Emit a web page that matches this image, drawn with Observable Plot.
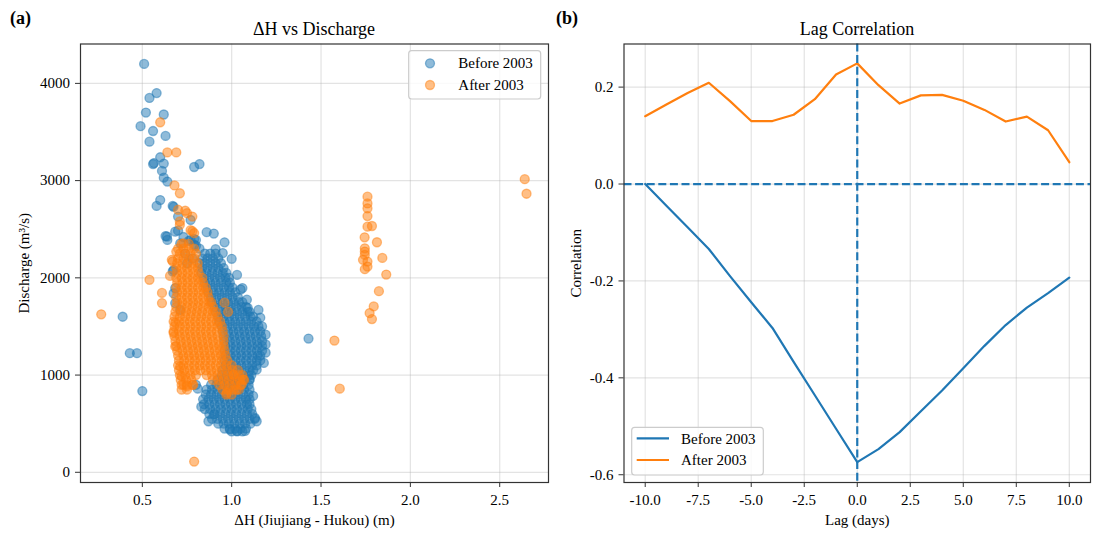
<!DOCTYPE html>
<html>
<head>
<meta charset="utf-8">
<script src="https://cdn.jsdelivr.net/npm/d3@7"></script>
<script src="https://cdn.jsdelivr.net/npm/@observablehq/plot@0.6"></script>
<style>
  html, body { margin: 0; padding: 0; background: #fff; }
  #wrap { position: relative; width: 1093px; height: 535px; background: #fff; overflow: hidden; }
  #left, #right, #overlay { position: absolute; top: 0; }
  #left { left: 0; }
  #right { left: 560px; }
  #overlay { left: 0; pointer-events: none; }
  text { font-family: "Liberation Serif", "Times New Roman", serif; }
  #left svg, #right svg { font-family: "Liberation Serif", "Times New Roman", serif !important; font-size: 15px !important; }
  #left svg text, #right svg text { font-family: "Liberation Serif", "Times New Roman", serif !important; }
</style>
</head>
<body>
<div id="wrap">
  <div id="left"></div>
  <div id="right"></div>
  <svg id="overlay" width="1093" height="535"></svg>
</div>
<script>
// ---------------- DATA ----------------
const seriesNames = ["Before 2003", "After 2003"];
const colors = ["#1f77b4", "#ff7f0e"];

// Panel (b): lag correlation
const lags = [-10, -9, -8, -7, -6, -5, -4, -3, -2, -1, 0, 1, 2, 3, 4, 5, 6, 7, 8, 9, 10];
const corrBefore = [0.000, -0.045, -0.089, -0.134, -0.190, -0.244, -0.297, -0.367, -0.436, -0.505, -0.574,
                    -0.547, -0.512, -0.469, -0.426, -0.380, -0.334, -0.291, -0.255, -0.225, -0.193];
const corrAfter = [0.140, 0.164, 0.188, 0.209, 0.171, 0.130, 0.130, 0.143, 0.175, 0.226, 0.249,
                   0.204, 0.166, 0.183, 0.184, 0.172, 0.153, 0.129, 0.139, 0.111, 0.045];

// Panel (a): scatter ΔH (m) vs discharge (m3/s)
// dense core, row by row: [discharge, [ΔH values]]
const beforeCoreRows = [
  [2250, [0.85, 0.88, 0.91]],
  [2200, [0.835, 0.865, 0.895, 0.925]],
  [2150, [0.82, 0.85, 0.88, 0.91, 0.94]],
  [2100, [0.835, 0.865, 0.895, 0.925, 0.955]],
  [2050, [0.83, 0.86, 0.89, 0.92, 0.95, 0.97]],
  [2000, [0.845, 0.875, 0.905, 0.935, 0.965, 0.985]],
  [1950, [0.85, 0.88, 0.91, 0.94, 0.97, 0.99]],
  [1900, [0.865, 0.895, 0.925, 0.955, 0.985, 1.005]],
  [1850, [0.87, 0.90, 0.93, 0.96, 0.99, 1.02]],
  [1800, [0.885, 0.915, 0.945, 0.975, 1.005, 1.035]],
  [1750, [0.89, 0.92, 0.95, 0.98, 1.01, 1.04, 1.06]],
  [1700, [0.905, 0.935, 0.965, 0.995, 1.025, 1.055, 1.08]],
  [1650, [0.91, 0.94, 0.97, 1.00, 1.03, 1.06, 1.09, 1.10]],
  [1600, [0.925, 0.955, 0.985, 1.015, 1.045, 1.075, 1.105, 1.12]],
  [1550, [0.93, 0.96, 0.99, 1.02, 1.05, 1.08, 1.11, 1.14]],
  [1500, [0.945, 0.975, 1.005, 1.035, 1.065, 1.095, 1.125, 1.15]],
  [1450, [0.95, 0.98, 1.01, 1.04, 1.07, 1.10, 1.13, 1.16]],
  [1400, [0.955, 0.985, 1.015, 1.045, 1.075, 1.105, 1.135, 1.165]],
  [1350, [0.96, 0.99, 1.02, 1.05, 1.08, 1.11, 1.14, 1.17]],
  [1300, [0.965, 0.995, 1.025, 1.055, 1.085, 1.115, 1.145, 1.17]],
  [1250, [0.96, 0.99, 1.02, 1.05, 1.08, 1.11, 1.14, 1.17]],
  [1200, [0.965, 0.995, 1.025, 1.055, 1.085, 1.115, 1.145, 1.16]],
  [1150, [0.96, 0.99, 1.02, 1.05, 1.08, 1.11, 1.14, 1.16]],
  [1100, [0.965, 0.995, 1.025, 1.055, 1.085, 1.115, 1.14]],
  [1050, [0.95, 0.98, 1.01, 1.04, 1.07, 1.10, 1.12]],
  [1000, [0.945, 0.975, 1.005, 1.035, 1.065, 1.095, 1.11]],
  [950, [0.92, 0.95, 0.98, 1.01, 1.04, 1.07, 1.10]],
  [900, [0.885, 0.915, 0.945, 0.975, 1.005, 1.035, 1.065, 1.095]],
  [850, [0.86, 0.89, 0.92, 0.95, 0.98, 1.01, 1.04, 1.07, 1.10]],
  [800, [0.855, 0.885, 0.915, 0.945, 0.975, 1.005, 1.035, 1.065, 1.095]],
  [750, [0.84, 0.87, 0.90, 0.93, 0.96, 0.99, 1.02, 1.05, 1.08, 1.10]],
  [700, [0.845, 0.875, 0.905, 0.935, 0.965, 0.995, 1.025, 1.055, 1.085, 1.10]],
  [650, [0.85, 0.88, 0.91, 0.94, 0.97, 1.00, 1.03, 1.06, 1.09, 1.11]],
  [600, [0.875, 0.905, 0.935, 0.965, 0.995, 1.025, 1.055, 1.085, 1.115]],
  [550, [0.89, 0.92, 0.95, 0.98, 1.01, 1.04, 1.07, 1.10, 1.13]],
  [500, [0.925, 0.955, 0.985, 1.015, 1.045, 1.075, 1.105]],
  [450, [0.96, 0.99, 1.02, 1.05, 1.08]],
  [420, [1.00, 1.03, 1.06]]
];
// scattered points: [ΔH, discharge]
const beforeScatter = [
  [0.51, 4200], [0.54, 3850], [0.58, 3900], [0.52, 3700], [0.62, 3680], [0.49, 3560], [0.56, 3510],
  [0.63, 3460], [0.54, 3400], [0.56, 3170], [0.565, 3180], [0.60, 3240], [0.62, 3175], [0.61, 3100],
  [0.62, 3030], [0.64, 2990], [0.79, 3140], [0.82, 3170], [0.60, 2800], [0.58, 2740], [0.67, 2740],
  [0.70, 2630], [0.77, 2595], [0.63, 2430], [0.64, 2390], [0.70, 2485], [0.86, 2470], [0.90, 2455],
  [0.96, 2365], [0.91, 2295], [0.95, 2255], [1.00, 2195], [1.03, 2030], [0.67, 2065], [1.06, 1895],
  [0.39, 1600], [0.43, 1225], [0.47, 1225], [0.50, 835], [1.43, 1375],
  [0.675, 2730], [0.638, 2425], [0.684, 2475], [0.712, 2355], [0.675, 2080], [0.684, 1895],
  [0.684, 1740], [0.712, 1670], [0.675, 1840],
  [0.73, 2420], [0.76, 2380], [0.80, 2330], [0.74, 2250], [0.78, 2200], [0.82, 2300], [0.79, 2400],
  [0.75, 2150], [0.77, 2390], [0.80, 2390], [0.79, 2340],
  [1.05, 1880], [1.085, 1775], [1.09, 1690], [1.15, 1670], [1.16, 1590], [1.17, 1500], [1.19, 1415],
  [1.19, 1315], [1.19, 1230], [1.18, 1125], [1.14, 1055], [1.10, 955], [1.12, 785], [1.14, 525],
  [1.13, 560], [1.075, 425], [1.03, 425], [0.99, 440], [0.90, 595], [0.87, 525], [0.83, 675],
  [0.80, 900], [0.81, 860]
];

const afterCoreRows = [
  [2350, [0.72, 0.76]],
  [2300, [0.70, 0.73, 0.76, 0.79]],
  [2250, [0.71, 0.74, 0.77, 0.80]],
  [2200, [0.70, 0.73, 0.76, 0.79]],
  [2150, [0.695, 0.725, 0.755, 0.785, 0.81]],
  [2100, [0.69, 0.72, 0.75, 0.78, 0.81]],
  [2050, [0.695, 0.725, 0.755, 0.785, 0.815]],
  [2000, [0.69, 0.72, 0.75, 0.78, 0.81, 0.835]],
  [1950, [0.695, 0.725, 0.755, 0.785, 0.815, 0.84]],
  [1900, [0.69, 0.72, 0.75, 0.78, 0.81, 0.84, 0.855]],
  [1850, [0.695, 0.725, 0.755, 0.785, 0.815, 0.845, 0.865]],
  [1800, [0.69, 0.72, 0.75, 0.78, 0.81, 0.84, 0.87]],
  [1750, [0.695, 0.725, 0.755, 0.785, 0.815, 0.845, 0.875, 0.885]],
  [1700, [0.69, 0.72, 0.75, 0.78, 0.81, 0.84, 0.87, 0.895]],
  [1650, [0.685, 0.715, 0.745, 0.775, 0.805, 0.835, 0.865, 0.895, 0.91]],
  [1600, [0.68, 0.71, 0.74, 0.77, 0.80, 0.83, 0.86, 0.89, 0.92]],
  [1550, [0.675, 0.705, 0.735, 0.765, 0.795, 0.825, 0.855, 0.885, 0.915, 0.935]],
  [1500, [0.68, 0.71, 0.74, 0.77, 0.80, 0.83, 0.86, 0.89, 0.92, 0.945]],
  [1450, [0.675, 0.705, 0.735, 0.765, 0.795, 0.825, 0.855, 0.885, 0.915, 0.95]],
  [1400, [0.68, 0.71, 0.74, 0.77, 0.80, 0.83, 0.86, 0.89, 0.92, 0.955]],
  [1350, [0.685, 0.715, 0.745, 0.775, 0.805, 0.835, 0.865, 0.895, 0.925, 0.955]],
  [1300, [0.69, 0.72, 0.75, 0.78, 0.81, 0.84, 0.87, 0.90, 0.93, 0.955]],
  [1250, [0.695, 0.725, 0.755, 0.785, 0.815, 0.845, 0.875, 0.905, 0.935, 0.96]],
  [1200, [0.70, 0.73, 0.76, 0.79, 0.82, 0.85, 0.88, 0.91, 0.94, 0.965]],
  [1150, [0.705, 0.735, 0.765, 0.795, 0.825, 0.855, 0.885, 0.915, 0.945, 0.975]],
  [1100, [0.70, 0.73, 0.76, 0.79, 0.82, 0.85, 0.88, 0.91, 0.94, 0.97, 1.00]],
  [1050, [0.705, 0.735, 0.765, 0.795, 0.825, 0.855, 0.885, 0.915, 0.945, 0.975, 1.005, 1.035]],
  [1000, [0.71, 0.74, 0.77, 0.80, 0.86, 0.89, 0.92, 0.95, 0.98, 1.01, 1.04, 1.06]],
  [950, [0.715, 0.745, 0.775, 0.895, 0.925, 0.955, 0.985, 1.015, 1.045, 1.07]],
  [900, [0.72, 0.75, 0.78, 0.93, 0.96, 0.99, 1.02, 1.05]],
  [850, [0.72, 0.75, 0.95, 0.98, 1.01, 1.04]],
  [800, [0.97, 1.00]]
];
const afterScatter = [
  [0.60, 3600], [0.64, 3290], [0.69, 3290], [0.68, 2950], [0.71, 2870], [0.74, 2690], [0.71, 2580],
  [0.78, 2480], [0.67, 2170], [0.54, 1980], [0.61, 1845], [0.61, 1740], [0.79, 110], [0.27, 1625],
  [0.70, 2700], [0.75, 2665], [0.78, 2630], [0.71, 2545], [0.77, 2490], [0.79, 2460], [0.73, 2355],
  [0.69, 2270], [0.665, 2185], [0.655, 2020], [0.685, 1540], [0.675, 1435], [0.684, 1295],
  [0.712, 1090], [0.73, 902], [0.75, 885], [0.785, 900], [0.72, 990], [0.96, 1745], [0.98, 1650],
  [0.973, 817], [1.028, 851], [1.056, 902], [1.065, 954], [1.01, 1005],
  [1.76, 2835], [1.76, 2765], [1.76, 2715], [1.76, 2635], [1.76, 2526], [1.785, 2533], [1.744, 2417],
  [1.813, 2366], [1.745, 2304], [1.745, 2270], [1.745, 2236], [1.735, 2185], [1.76, 2167],
  [1.76, 2116], [1.745, 2089], [1.843, 2205], [1.865, 2034], [1.824, 1863], [1.795, 1706],
  [1.772, 1638], [1.785, 1576], [1.575, 1355], [1.605, 860], [2.64, 3015], [2.65, 2865]
];

const xTicksA = [0.5, 1.0, 1.5, 2.0, 2.5];
const yTicksA = [0, 1000, 2000, 3000, 4000];
const xTicksB = [-10, -7.5, -5, -2.5, 0, 2.5, 5, 7.5, 10];
const yTicksB = [-0.6, -0.4, -0.2, 0.0, 0.2];

// ---------------- BUILD ----------------
const before = beforeCoreRows.flatMap(([y, xs]) => xs.map(x => ({x, y}))).concat(beforeScatter.map(([x, y]) => ({x, y})));
const after = afterCoreRows.flatMap(([y, xs]) => xs.map(x => ({x, y}))).concat(afterScatter.map(([x, y]) => ({x, y})));

const font = "Liberation Serif";
const gridStyle = {stroke: "#b0b0b0", strokeOpacity: 0.35, strokeWidth: 1.2};
const styleObj = {fontFamily: font, fontSize: "15px", color: "#000", background: "transparent", overflow: "visible"};
const axisText = {fontSize: 15, fontFamily: font, fill: "#000"};

const left = Plot.plot({
  width: 560, height: 535,
  marginLeft: 80, marginRight: 12, marginTop: 43.5, marginBottom: 53,
  x: {domain: [0.154, 2.773]},
  y: {domain: [-105, 4405]},
  style: styleObj,
  marks: [
    Plot.gridX(xTicksA, gridStyle),
    Plot.gridY(yTicksA, gridStyle),
    Plot.dot(before, {x: "x", y: "y", r: 4.5, fill: colors[0], fillOpacity: 0.5, stroke: colors[0], strokeOpacity: 0.5, strokeWidth: 1.3}),
    Plot.dot(after, {x: "x", y: "y", r: 4.5, fill: colors[1], fillOpacity: 0.5, stroke: colors[1], strokeOpacity: 0.5, strokeWidth: 1.3}),
    Plot.frame({stroke: "#333", strokeWidth: 1.2}),
    Plot.axisX(xTicksA, {...axisText, tickSize: 5, tickPadding: 7, tickFormat: d => d.toFixed(1), stroke: "#333",
      label: "ΔH (Jiujiang - Hukou) (m)", labelAnchor: "center", labelArrow: "none", labelOffset: 42}),
    Plot.axisY(yTicksA, {...axisText, tickSize: 5, tickPadding: 5.5, tickFormat: d => String(d), stroke: "#333",
      label: "Discharge (m³/s)", labelAnchor: "center", labelArrow: "none", labelOffset: 62})
  ]
});
document.getElementById("left").appendChild(left);

const lineData = (vals) => lags.map((l, i) => ({lag: l, c: vals[i]}));
const right = Plot.plot({
  width: 533, height: 535,
  marginLeft: 63.5, marginRight: 3, marginTop: 43.5, marginBottom: 53,
  x: {domain: [-11, 11]},
  y: {domain: [-0.616, 0.289]},
  style: styleObj,
  marks: [
    Plot.gridX(xTicksB, gridStyle),
    Plot.gridY(yTicksB, gridStyle),
    Plot.line(lineData(corrBefore), {x: "lag", y: "c", stroke: colors[0], strokeWidth: 2.2}),
    Plot.line(lineData(corrAfter), {x: "lag", y: "c", stroke: colors[1], strokeWidth: 2.2}),
    Plot.ruleY([0], {stroke: colors[0], strokeWidth: 2.2, strokeDasharray: "8,3.6"}),
    Plot.ruleX([0], {stroke: colors[0], strokeWidth: 2.2, strokeDasharray: "8,3.6"}),
    Plot.frame({stroke: "#333", strokeWidth: 1.2}),
    Plot.axisX(xTicksB, {...axisText, tickSize: 5, tickPadding: 7, tickFormat: d => d.toFixed(1), stroke: "#333",
      label: "Lag (days)", labelAnchor: "center", labelArrow: "none", labelOffset: 42}),
    Plot.axisY(yTicksB, {...axisText, tickSize: 5, tickPadding: 5.5, tickFormat: d => d.toFixed(1), stroke: "#333",
      label: "Correlation", labelAnchor: "center", labelArrow: "none", labelOffset: 54})
  ]
});
document.getElementById("right").appendChild(right);

// ---------------- OVERLAY: titles, panel tags, legends ----------------
const ov = d3.select("#overlay");
ov.append("text").attr("x", 10).attr("y", 24).attr("font-size", 18).attr("font-weight", "bold").text("(a)");
ov.append("text").attr("x", 556).attr("y", 24).attr("font-size", 18).attr("font-weight", "bold").text("(b)");
ov.append("text").attr("x", 314).attr("y", 35).attr("font-size", 18).attr("text-anchor", "middle").text("ΔH vs Discharge");
ov.append("text").attr("x", 857).attr("y", 35).attr("font-size", 18).attr("text-anchor", "middle").text("Lag Correlation");

// legend (a)
ov.append("rect").attr("x", 408.7).attr("y", 50.7).attr("width", 132).attr("height", 48.3).attr("rx", 3)
  .attr("fill", "#fff").attr("fill-opacity", 0.8).attr("stroke", "#cccccc").attr("stroke-width", 1.2);
[63.3, 85].forEach((cy, i) => {
  ov.append("circle").attr("cx", 430).attr("cy", cy).attr("r", 4.5)
    .attr("fill", colors[i]).attr("fill-opacity", 0.5).attr("stroke", colors[i]).attr("stroke-opacity", 0.5).attr("stroke-width", 1.3);
  ov.append("text").attr("x", 458.3).attr("y", cy + 5).attr("font-size", 15).text(seriesNames[i]);
});
// legend (b)
ov.append("rect").attr("x", 631.7).attr("y", 427.3).attr("width", 131.6).attr("height", 47.7).attr("rx", 3)
  .attr("fill", "#fff").attr("fill-opacity", 0.8).attr("stroke", "#cccccc").attr("stroke-width", 1.2);
[438.3, 460].forEach((cy, i) => {
  ov.append("line").attr("x1", 636.7).attr("x2", 669).attr("y1", cy).attr("y2", cy)
    .attr("stroke", colors[i]).attr("stroke-width", 2.2);
  ov.append("text").attr("x", 681).attr("y", cy + 5.3).attr("font-size", 15).text(seriesNames[i]);
});
</script>
</body>
</html>
